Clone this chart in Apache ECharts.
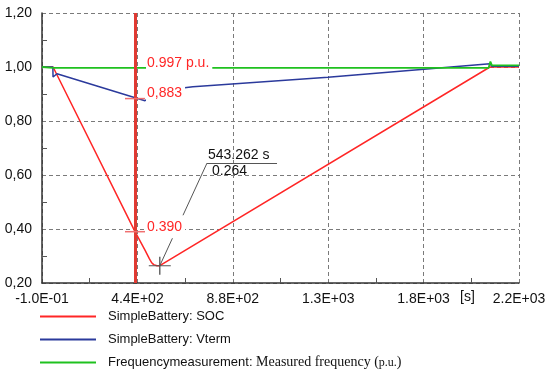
<!DOCTYPE html>
<html>
<head>
<meta charset="utf-8">
<style>html,body{margin:0;padding:0;background:#fff;}#c{width:550px;height:375px;}</style>
<script src="https://cdn.jsdelivr.net/npm/echarts@6/dist/echarts.min.js"></script>
</head>
<body>
<div id="c"></div>
<script>
// ---- data ----
const timeSOC = [0, 51, 429, 475, 495, 505, 515, 530, 543.262, 2066, 2200];
const soc     = [1.0, 1.0, 0.39, 0.322, 0.29, 0.276, 0.268, 0.264, 0.264, 1.0, 1.0];
const timeVterm = [0, 50, 51, 69, 475, 500, 543.262, 696, 1319, 2066, 2075, 2200];
const vterm     = [1.0, 1.0, 0.963, 0.975, 0.875, 0.89, 0.912, 0.927, 0.962, 1.012, 1.003, 1.003];
const timeFreq = [0, 51, 2060, 2068, 2075, 2200];
const freq     = [1.0, 0.997, 0.997, 1.02, 1.006, 1.006];
const seriesNames = ['SimpleBattery: SOC', 'SimpleBattery: Vterm', 'Frequencymeasurement: Measured frequency (p.u.)'];
const xTickLabels = ['-1.0E-01', '4.4E+02', '8.8E+02', '1.3E+03', '1.8E+03', '2.2E+03'];
const cursorTime = 429;
const cursorValues = [0.997, 0.883, 0.390];
const cursorLabels = ['0.997 p.u.', '0,883', '0.390'];
const minTime = 543.262;
const minValue = 0.264;
const annotAnchor = [761, 0.644];
const annotEnd = [1084, 0.644];

const zip = (a, b) => a.map((t, i) => [t, b[i]]);
const FONT = 'Liberation Sans, Arial, sans-serif';
const SERIF = 'Liberation Serif, Times New Roman, serif';

const chart = echarts.init(document.getElementById('c'), null, {renderer: 'canvas'});
const gridColor = '#7a7a7a';

const option = {
  animation: false,
  backgroundColor: '#fff',
  grid: {left: 42, right: 31, top: 13, bottom: 92},
  xAxis: {
    type: 'value', min: 0, max: 2200, interval: 440,
    axisLine: {show: true, onZero: false, lineStyle: {color: '#333', width: 1.5}},
    axisTick: {show: false, inside: true},
    minorTick: {show: true, splitNumber: 2, length: 5, lineStyle: {color: '#555'}},
    splitLine: {show: true, lineStyle: {color: gridColor, type: [4, 3], width: 1}},
    axisLabel: {
      color: '#111', fontFamily: FONT, fontSize: 14, margin: 9,
      formatter: v => xTickLabels[Math.round(v / 440)]
    }
  },
  yAxis: {
    type: 'value', min: 0.2, max: 1.2, interval: 0.2,
    axisLine: {show: true, onZero: false, lineStyle: {color: '#333', width: 1.5}},
    axisTick: {show: false, inside: true},
    minorTick: {show: true, splitNumber: 2, length: 5, lineStyle: {color: '#555'}},
    splitLine: {show: true, lineStyle: {color: gridColor, type: [4, 3], width: 1}},
    axisLabel: {
      color: '#111', fontFamily: FONT, fontSize: 14, margin: 10,
      formatter: v => v.toFixed(2).replace('.', ',')
    }
  },
  legend: {
    orient: 'vertical', left: 40, top: 309, height: 66, padding: 0,
    itemWidth: 56, itemHeight: 2, itemGap: 8, icon: 'rect',
    data: seriesNames,
    textStyle: {
      color: '#111', fontFamily: FONT, fontSize: 13, lineHeight: 15, padding: [0, 0, 0, 7],
      rich: {
        a: {fontFamily: FONT, fontSize: 13, lineHeight: 15, color: '#111'},
        b: {fontFamily: SERIF, fontSize: 14, lineHeight: 15, color: '#111'},
        c: {fontFamily: SERIF, fontSize: 12, lineHeight: 15, color: '#111'}
      }
    },
    formatter: name => name === seriesNames[2]
      ? '{a|Frequencymeasurement:}{b| Measured frequency (}{c|p.u.}{b|)}'
      : name
  },
  graphic: [{
    type: 'text', left: 460, top: 290,
    style: {text: '[s]', font: '14px ' + FONT, fill: '#111'}
  }],
  series: [
    {
      name: seriesNames[0], type: 'line', data: zip(timeSOC, soc), symbol: 'none', z: 2,
      lineStyle: {color: '#ff2626', width: 1.5}, itemStyle: {color: '#ff2626'},
      markLine: {
        silent: true, z: 6, symbol: ['none', 'none'], label: {show: false},
        data: [
          {xAxis: cursorTime, lineStyle: {color: '#e03a32', width: 3, type: 'solid'}},
          [{coord: [minTime, minValue]}, {coord: annotAnchor}],
          [{coord: annotAnchor}, {coord: annotEnd}]
        ],
        lineStyle: {color: '#555', width: 1, type: 'solid'}
      }
    },
    {
      name: seriesNames[1], type: 'line', data: zip(timeVterm, vterm), symbol: 'none', z: 2,
      lineStyle: {color: '#2b3a9c', width: 1.5}, itemStyle: {color: '#2b3a9c'}
    },
    {
      name: seriesNames[2], type: 'line', data: zip(timeFreq, freq), symbol: 'none', z: 2,
      lineStyle: {color: '#1fc11f', width: 1.8}, itemStyle: {color: '#1fc11f'},
      markPoint: {
        silent: true, z: 10,
        data: [
          // short red cursor marks
          {coord: [cursorTime, cursorValues[1]], symbol: 'rect', symbolSize: [20, 1.5], itemStyle: {color: '#f07070'}, label: {show: false}},
          {coord: [cursorTime, cursorValues[2]], symbol: 'rect', symbolSize: [20, 1.5], itemStyle: {color: '#f07070'}, label: {show: false}},
          // cross marker at minimum
          {coord: [minTime, minValue], symbol: 'path://M0,9H22M11,0V18', symbolSize: [22, 18],
           itemStyle: {color: 'none', borderColor: '#555', borderWidth: 1.2}, label: {show: false}},
          // annotation text
          {coord: annotAnchor, symbol: 'rect', symbolSize: 0,
           label: {show: true, position: 'right', distance: 0, offset: [1, -8], formatter: minTime.toFixed(3) + ' s',
                   color: '#111', fontFamily: FONT, fontSize: 14}},
          {coord: annotAnchor, symbol: 'rect', symbolSize: 0,
           label: {show: true, position: 'right', distance: 0, offset: [5, 8], formatter: minValue.toFixed(3),
                   color: '#111', fontFamily: FONT, fontSize: 14}}
        ]
      }
    },
    {
      name: 'cursor', type: 'scatter', z: 20, silent: true,
      data: cursorValues.map(v => [cursorTime, v]),
      symbol: 'rect', symbolSize: 0, itemStyle: {color: '#ff2626', opacity: 1},
      label: {
        show: true, position: 'right', distance: 0, offset: [11, -5],
        formatter: p => cursorLabels[p.dataIndex], color: '#ff2626', fontFamily: FONT, fontSize: 14,
        backgroundColor: '#fff', padding: [1, 3, 8, 1]
      }
    }
  ]
};
chart.setOption(option);
</script>
</body>
</html>
